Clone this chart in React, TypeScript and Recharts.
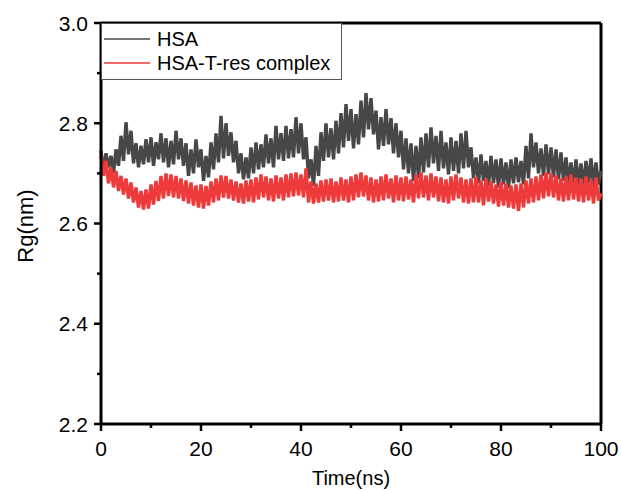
import React from 'react';
import { LineChart, Line, XAxis, YAxis, Legend, ReferenceLine } from 'recharts';

// Rg trajectories, one frame every 0.5 ns (0 -> 100 ns)
const TIME_STEP = 0.5;

const hsaRg = [
  2.745, 2.705, 2.740, 2.712, 2.735, 2.700, 2.748, 2.715, 2.775, 2.725,
  2.802, 2.738, 2.785, 2.720, 2.760, 2.712, 2.755, 2.718, 2.768, 2.722,
  2.772, 2.715, 2.762, 2.728, 2.780, 2.722, 2.770, 2.712, 2.765, 2.718,
  2.785, 2.728, 2.770, 2.715, 2.760, 2.695, 2.748, 2.700, 2.768, 2.712,
  2.748, 2.685, 2.735, 2.692, 2.762, 2.708, 2.780, 2.722, 2.815, 2.730,
  2.800, 2.735, 2.782, 2.722, 2.765, 2.700, 2.740, 2.688, 2.732, 2.690,
  2.752, 2.700, 2.762, 2.708, 2.758, 2.712, 2.778, 2.720, 2.770, 2.712,
  2.795, 2.728, 2.780, 2.725, 2.795, 2.730, 2.788, 2.732, 2.812, 2.740,
  2.800, 2.728, 2.772, 2.690, 2.728, 2.675, 2.755, 2.695, 2.782, 2.725,
  2.800, 2.732, 2.790, 2.728, 2.805, 2.740, 2.820, 2.752, 2.838, 2.765,
  2.828, 2.750, 2.818, 2.758, 2.845, 2.772, 2.860, 2.788, 2.850, 2.778,
  2.825, 2.748, 2.812, 2.755, 2.828, 2.758, 2.810, 2.740, 2.800, 2.732,
  2.785, 2.708, 2.770, 2.700, 2.760, 2.685, 2.755, 2.690, 2.772, 2.702,
  2.780, 2.712, 2.792, 2.720, 2.775, 2.705, 2.785, 2.710, 2.762, 2.698,
  2.772, 2.705, 2.765, 2.700, 2.780, 2.710, 2.785, 2.712, 2.752, 2.690,
  2.732, 2.680, 2.738, 2.685, 2.725, 2.675, 2.735, 2.680, 2.728, 2.672,
  2.730, 2.678, 2.722, 2.670, 2.728, 2.680, 2.732, 2.682, 2.725, 2.678,
  2.755, 2.690, 2.780, 2.712, 2.762, 2.700, 2.750, 2.695, 2.758, 2.698,
  2.752, 2.692, 2.748, 2.688, 2.742, 2.685, 2.732, 2.680, 2.722, 2.675,
  2.728, 2.678, 2.720, 2.672, 2.725, 2.680, 2.730, 2.675, 2.722, 2.678,
  2.705,
];

const complexRg = [
  2.735, 2.695, 2.725, 2.680, 2.712, 2.672, 2.705, 2.665, 2.695, 2.658,
  2.690, 2.650, 2.682, 2.642, 2.672, 2.632, 2.665, 2.628, 2.668, 2.630,
  2.678, 2.638, 2.685, 2.645, 2.695, 2.650, 2.700, 2.655, 2.698, 2.652,
  2.695, 2.650, 2.690, 2.645, 2.686, 2.640, 2.682, 2.636, 2.676, 2.632,
  2.678, 2.630, 2.675, 2.636, 2.684, 2.642, 2.690, 2.646, 2.696, 2.652,
  2.695, 2.650, 2.688, 2.646, 2.684, 2.642, 2.680, 2.640, 2.686, 2.644,
  2.688, 2.642, 2.692, 2.648, 2.698, 2.652, 2.694, 2.646, 2.690, 2.644,
  2.696, 2.650, 2.692, 2.646, 2.698, 2.652, 2.700, 2.654, 2.702, 2.656,
  2.698, 2.652, 2.710, 2.642, 2.684, 2.640, 2.680, 2.642, 2.686, 2.644,
  2.688, 2.646, 2.690, 2.642, 2.684, 2.644, 2.692, 2.646, 2.688, 2.642,
  2.694, 2.646, 2.698, 2.652, 2.702, 2.654, 2.696, 2.646, 2.692, 2.642,
  2.688, 2.644, 2.694, 2.646, 2.698, 2.650, 2.690, 2.642, 2.696, 2.646,
  2.692, 2.644, 2.694, 2.648, 2.688, 2.642, 2.698, 2.650, 2.702, 2.652,
  2.696, 2.646, 2.700, 2.652, 2.694, 2.644, 2.692, 2.642, 2.688, 2.640,
  2.694, 2.646, 2.698, 2.650, 2.692, 2.642, 2.688, 2.640, 2.690, 2.642,
  2.692, 2.642, 2.686, 2.636, 2.690, 2.644, 2.684, 2.640, 2.678, 2.634,
  2.683, 2.636, 2.680, 2.632, 2.676, 2.630, 2.678, 2.625, 2.680, 2.632,
  2.686, 2.640, 2.690, 2.642, 2.694, 2.646, 2.698, 2.650, 2.702, 2.654,
  2.700, 2.652, 2.696, 2.646, 2.690, 2.644, 2.694, 2.646, 2.698, 2.648,
  2.692, 2.644, 2.690, 2.642, 2.694, 2.646, 2.688, 2.640, 2.692, 2.646,
  2.660,
];

const xTicks = [0, 10, 20, 30, 40, 50, 60, 70, 80, 90, 100];
const yTicks = [2.2, 2.3, 2.4, 2.5, 2.6, 2.7, 2.8, 2.9, 3.0];

const FONT = '"Liberation Sans", Arial, sans-serif';

const data = hsaRg.map((v, i) => ({ t: i * TIME_STEP, hsa: v, complex: complexRg[i] }));

// ticks drawn by hand so minor ticks can be shorter and unlabeled
const XTick = (props: any) => {
  const { x, y, payload } = props;
  const major = payload.value % 20 === 0;
  return (
    <g>
      <line x1={x} x2={x} y1={y} y2={y + (major ? 7 : 4)} stroke="#000" strokeWidth={2.5} />
      {major && (
        <text x={x} y={y + 32} textAnchor="middle" fontSize={21} fontFamily={FONT} fill="#000">
          {payload.value}
        </text>
      )}
    </g>
  );
};

const YTick = (props: any) => {
  const { x, y, payload } = props;
  const major = Math.round(payload.value * 10) % 2 === 0;
  return (
    <g>
      <line x1={x} x2={x - (major ? 7 : 4)} y1={y} y2={y} stroke="#000" strokeWidth={2.5} />
      {major && (
        <text x={x - 13} y={y} dy="0.36em" textAnchor="end" fontSize={21} fontFamily={FONT} fill="#000">
          {payload.value.toFixed(1)}
        </text>
      )}
    </g>
  );
};

const LegendBox = (props: any) => {
  const { payload } = props;
  return (
    <svg width={241} height={57} style={{ display: 'block' }}>
      <rect x={0.5} y={0.5} width={240} height={56} fill="#fff" stroke="#555" strokeWidth={1} />
      {(payload || []).map((entry: any, i: number) => (
        <g key={entry.value}>
          <line x1={3} x2={49} y1={16 + i * 24} y2={16 + i * 24} stroke={entry.color} strokeWidth={1.5} />
          <text x={56} y={16 + i * 24} dy="0.36em" fontSize={20} fontFamily={FONT} fill="#000">
            {entry.value}
          </text>
        </g>
      ))}
    </svg>
  );
};

export default function App() {
  return (
    <div style={{ position: 'absolute', left: 0, top: 0, width: 621, height: 490, background: '#fff' }}>
      <LineChart width={621} height={490} data={data} margin={{ top: 23, right: 20, left: 0, bottom: 0 }}>
        <XAxis
          dataKey="t"
          type="number"
          domain={[0, 100]}
          ticks={xTicks}
          interval={0}
          height={66}
          tickSize={0}
          tickMargin={0}
          tickLine={false}
          tick={XTick}
          axisLine={{ stroke: '#000', strokeWidth: 3 }}
          label={{
            content: (p: any) => {
              const vb = p.viewBox;
              return (
                <text x={vb.x + vb.width / 2} y={vb.y + 61} textAnchor="middle" fontSize={20} fontFamily={FONT} fill="#000">
                  Time(ns)
                </text>
              );
            },
          }}
        />
        <YAxis
          type="number"
          domain={[2.2, 3.0]}
          ticks={yTicks}
          interval={0}
          width={101}
          tickSize={0}
          tickMargin={0}
          tickLine={false}
          tick={YTick}
          axisLine={{ stroke: '#000', strokeWidth: 3 }}
          allowDataOverflow
          label={{
            content: () => (
              <text x={25} y={226} transform="rotate(-90 25 226)" textAnchor="middle" dominantBaseline="central" fontSize={22} fontFamily={FONT} fill="#000">
                Rg(nm)
              </text>
            ),
          }}
        />
        {/* closing frame on top and right */}
        <ReferenceLine y={3.0} stroke="#000" strokeWidth={3} />
        <ReferenceLine x={100} stroke="#000" strokeWidth={3} />
        <Legend
          layout="vertical"
          align="center"
          verticalAlign="middle"
          wrapperStyle={{ left: 101, top: 23, width: 241, height: 57 }}
          content={LegendBox}
        />
        <Line
          type="linear"
          dataKey="hsa"
          name="HSA"
          stroke="#474747"
          strokeWidth={3.4}
          strokeLinejoin="miter"
          dot={false}
          isAnimationActive={false}
        />
        <Line
          type="linear"
          dataKey="complex"
          name="HSA-T-res complex"
          stroke="#ee3a3a"
          strokeWidth={3.4}
          strokeLinejoin="miter"
          dot={false}
          isAnimationActive={false}
        />
      </LineChart>
    </div>
  );
}
